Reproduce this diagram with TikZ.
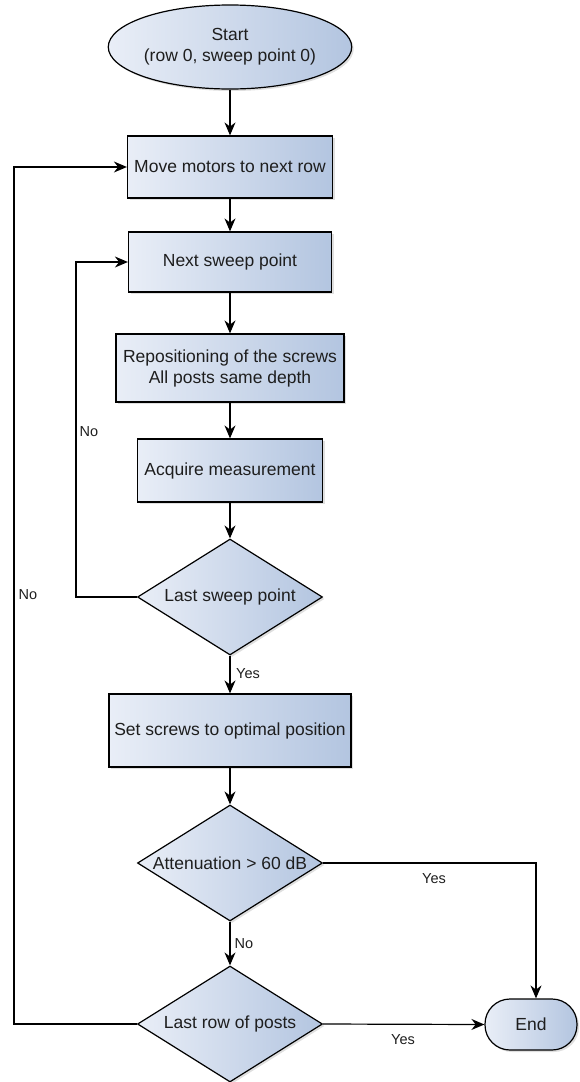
\documentclass[tikz,border=0pt]{standalone}
\usepackage{fontspec}
\setmainfont{Liberation Sans}
\usetikzlibrary{shapes.geometric,arrows.meta,shadows}

\definecolor{boxleft}{HTML}{E9EEF7}
\definecolor{boxright}{HTML}{B3C5E0}
\definecolor{inktext}{HTML}{1E1E1E}

\tikzset{
  block/.style={draw, line width=1.2pt, left color=boxleft, right color=boxright,
    drop shadow={opacity=0.25, shadow xshift=2pt, shadow yshift=-2pt},
    text=inktext, font=\fontsize{17.5}{21}\selectfont, align=center, inner sep=0pt},
  process/.style={block, rectangle},
  decision/.style={block, diamond, aspect=1.6, minimum width=185pt, minimum height=116pt},
  startnode/.style={block, ellipse, minimum width=213pt, minimum height=84pt},
  endnode/.style={block, rectangle, rounded corners=25pt, minimum width=92pt, minimum height=51pt},
  flow/.style={line width=1.2pt, -{Stealth[length=13pt, width=11pt]}},
  lbl/.style={text=inktext, font=\fontsize{14.5}{17}\selectfont}
}

\begin{document}
\begin{tikzpicture}[x=1pt, y=-1pt]
  \useasboundingbox (0,0) rectangle (579,1082);

  % Start
  \node[startnode] (start) at (230,47) {Start\\(row 0, sweep point 0)};

  % Main column
  \node[process, minimum width=205pt, minimum height=62pt] (move) at (230,167) {Move motors to next row};
  \node[process, minimum width=203pt, minimum height=60pt] (sweep) at (230,262) {Next sweep point};
  \node[process, minimum width=228pt, minimum height=68pt] (repos) at (230,368) {Repositioning of the screws\\All posts same depth};
  \node[process, minimum width=185pt, minimum height=63pt] (acquire) at (230,470.5) {Acquire measurement};
  \node[decision] (lastsweep) at (230,597) {Last sweep point};
  \node[process, minimum width=242pt, minimum height=73pt] (setscrews) at (230,730.5) {Set screws to optimal position};
  \node[decision] (atten) at (230,863) {Attenuation > 60 dB};
  \node[decision] (lastrow) at (230,1024) {Last row of posts};

  % End
  \node[endnode] (end) at (531,1024.5) {End};

  % Corner points of the loops
  \coordinate (innerloop) at (76,597);
  \coordinate (outerloop) at (14,1024);
  \coordinate (yesturn) at (536,863);

  % Arrows down the column
  \draw[flow] (start) -- (move);
  \draw[flow] (move) -- (sweep);
  \draw[flow] (sweep) -- (repos);
  \draw[flow] (repos) -- (acquire);
  \draw[flow] (acquire) -- (lastsweep);
  \draw[flow] (lastsweep) -- (setscrews);
  \draw[flow] (setscrews) -- (atten);
  \draw[flow] (atten) -- (lastrow);

  % Loops back
  \draw[flow] (lastsweep.west) -- (innerloop) |- (sweep.west);
  \draw[flow] (lastrow.west) -- (outerloop) |- (move.west);

  % To the end
  \draw[flow] (atten.east) -- (yesturn) -- (yesturn |- end.north);
  \draw[flow] (lastrow.east) -- (end.west);

  % Labels
  \node[lbl] (nosweep) at (89,432) {No};
  \node[lbl] (norow) at (28,595) {No};
  \node[lbl] (yessweep) at (248,674) {Yes};
  \node[lbl] (yesatten) at (434,879) {Yes};
  \node[lbl] (noatten) at (244,944) {No};
  \node[lbl] (yesrow) at (403,1040) {Yes};
\end{tikzpicture}
\end{document}
